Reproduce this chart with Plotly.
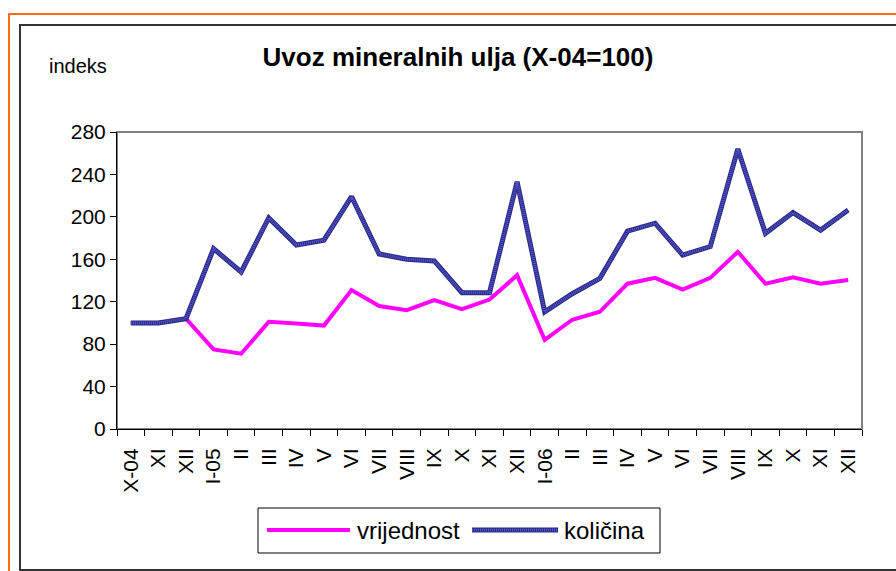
import plotly.graph_objects as go

# ---- data ----
categories = ["X-04", "XI", "XII", "I-05", "II", "III", "IV", "V", "VI", "VII", "VIII", "IX",
              "X", "XI", "XII", "I-06", "II", "III", "IV", "V", "VI", "VII", "VIII", "IX",
              "X", "XI", "XII"]
vrijednost = [100, 100, 104, 75, 71, 101, 99.5, 97.5, 131, 116, 112, 121.5,
              113, 122, 145, 84, 103, 110.5, 137, 142.5, 131.5, 142.5, 167, 137,
              143, 137, 140.5]
kolicina = [100, 100, 104, 170, 148, 199, 173.5, 178, 219, 165, 160, 158.5,
            128.5, 128.5, 233, 110.5, 127.5, 142, 186.5, 194, 164, 172, 264, 184.5,
            204, 187.5, 206.5]
y_ticks = [0, 40, 80, 120, 160, 200, 240, 280]
series_names = ["vrijednost", "količina"]
series_colors = ["#FF00FF", "#29298a"]
hatch_color = "#5a5acc"

# ---- geometry helpers (pixel -> paper) ----
W, H = 896, 571
L, R, T, B = 117, 862, 132, 429


def px(x):
    return (x - L) / (R - L)


def py(y):
    return (B - y) / (B - T)


FONT = "Arial, 'Liberation Sans', sans-serif"
xs = list(range(len(categories)))

fig = go.Figure()
fig.add_trace(go.Scatter(x=xs, y=vrijednost, mode="lines", name=series_names[0],
                         line=dict(color=series_colors[0], width=4), showlegend=False))
fig.add_trace(go.Scatter(x=xs, y=kolicina, mode="lines", name=series_names[1],
                         line=dict(color=series_colors[1], width=5), showlegend=False))
# hatch texture on top of the količina line
fig.add_trace(go.Scatter(x=xs, y=kolicina, mode="lines", name=series_names[1],
                         line=dict(color=hatch_color, width=3, dash="1px,1px"),
                         showlegend=False, hoverinfo="skip"))

# custom legend (box, line samples, labels)
legend_box = dict(type="rect", xref="paper", yref="paper", x0=px(258), x1=px(660),
                  y0=py(553), y1=py(508), line=dict(color="black", width=1),
                  fillcolor="white", layer="above")
legend_lines = [
    dict(type="line", xref="paper", yref="paper", x0=px(267), x1=px(350),
         y0=py(530), y1=py(530), line=dict(color=series_colors[0], width=4)),
    dict(type="line", xref="paper", yref="paper", x0=px(472), x1=px(558),
         y0=py(530), y1=py(530), line=dict(color=series_colors[1], width=5)),
    dict(type="line", xref="paper", yref="paper", x0=px(472), x1=px(558),
         y0=py(530), y1=py(530), line=dict(color=hatch_color, width=3, dash="1px,1px")),
]
legend_labels = [
    dict(text=series_names[0], xref="paper", yref="paper", x=px(355), y=py(530),
         xanchor="left", yanchor="middle", showarrow=False,
         font=dict(family=FONT, size=24, color="black")),
    dict(text=series_names[1], xref="paper", yref="paper", x=px(562), y=py(530),
         xanchor="left", yanchor="middle", showarrow=False,
         font=dict(family=FONT, size=24, color="black")),
]

fig.update_layout(
    width=W, height=H,
    margin=dict(l=L, r=W - R, t=T, b=H - B, pad=0),
    paper_bgcolor="white", plot_bgcolor="white",
    font=dict(family=FONT, color="black", size=21),
    title=dict(text="<b>Uvoz mineralnih ulja (X-04=100)</b>",
               x=458 / W, xanchor="center", xref="container",
               y=1 - 57 / H, yanchor="middle", yref="container",
               font=dict(family=FONT, size=26, color="black")),
    showlegend=False,
    xaxis=dict(
        range=[-0.5, len(categories) - 0.5],
        tickmode="array", tickvals=xs, ticktext=categories,
        tickangle=-90, ticks="", showgrid=False, zeroline=False,
        showline=True, linecolor="black", linewidth=1,
        tickfont=dict(family=FONT, size=21, color="black"),
        ticklabelstandoff=10,
        minor=dict(tickmode="linear", tick0=-0.5, dtick=1, ticks="outside",
                   ticklen=6, tickcolor="black", tickwidth=1, showgrid=False),
    ),
    yaxis=dict(
        range=[0, 280], tickmode="array", tickvals=y_ticks,
        ticks="outside", ticklen=6, tickcolor="black", tickwidth=1,
        showgrid=False, zeroline=False, showline=True, linecolor="black", linewidth=1,
        tickfont=dict(family=FONT, size=21, color="black"),
    ),
    shapes=[
        # orange outer frame
        dict(type="rect", xref="paper", yref="paper", x0=px(9), x1=px(1000),
             y0=py(700), y1=py(14), line=dict(color="#FF6A13", width=2), layer="below"),
        # dark chart frame
        dict(type="rect", xref="paper", yref="paper", x0=px(20), x1=px(1000),
             y0=py(570), y1=py(25), line=dict(color="#333333", width=2), layer="below"),
        # plot-area frame (grey)
        dict(type="rect", xref="paper", yref="paper", x0=0, x1=1, y0=0, y1=1,
             line=dict(color="#808080", width=2), layer="below"),
        legend_box,
    ] + legend_lines,
    annotations=[
        dict(text="indeks", xref="paper", yref="paper", x=px(47), y=py(66),
             xanchor="left", yanchor="middle", showarrow=False,
             font=dict(family=FONT, size=20, color="black")),
    ] + legend_labels,
)

fig.write_html("out.html", config={"displayModeBar": False},
               post_script="document.body.style.margin='0';document.body.style.overflow='hidden';")
